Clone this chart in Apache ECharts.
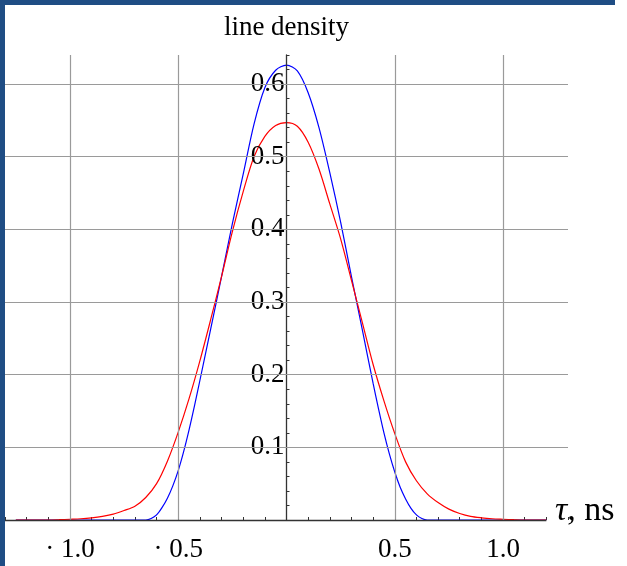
<!DOCTYPE html>
<html><head><meta charset="utf-8">
<script src="https://cdn.jsdelivr.net/npm/echarts@6/dist/echarts.min.js"></script>
<style>
html,body{margin:0;padding:0;background:#fff;}
#wrap{position:relative;width:627px;height:566px;overflow:hidden;background:#fff;}
#chart{position:absolute;left:0;top:0;width:627px;height:566px;}
#bl{position:absolute;left:0;top:0;width:5px;height:566px;background:#1f4d84;}
#bt{position:absolute;left:0;top:0;width:615px;height:5px;background:#1f4d84;}
</style></head><body>
<div id="wrap"><div id="chart"></div><div id="bl"></div><div id="bt"></div></div>
<script>
// ---- data ----
const tauBlue = [-1.25, -0.7, -0.65, -0.625, -0.6, -0.575, -0.55, -0.525, -0.5, -0.475, -0.45, -0.425, -0.4, -0.35, -0.3, -0.25, -0.2, -0.15, -0.1, -0.05, 0, 0.05, 0.1, 0.15, 0.2, 0.25, 0.3, 0.35, 0.4, 0.425, 0.45, 0.475, 0.5, 0.525, 0.55, 0.575, 0.6, 0.625, 0.65, 0.7, 1.2];
const blueValues = [0, 0, 0, 0.002, 0.007, 0.017, 0.030, 0.047, 0.068, 0.094, 0.124, 0.157, 0.192, 0.263, 0.335, 0.408, 0.476, 0.545, 0.595, 0.619, 0.626, 0.618, 0.588, 0.54, 0.478, 0.41, 0.335, 0.262, 0.188, 0.153, 0.12, 0.091, 0.066, 0.045, 0.029, 0.016, 0.007, 0.002, 0, 0, 0];

const tauRed = [-1.25, -1.1, -1.05, -1.0, -0.95, -0.9, -0.85, -0.8, -0.75, -0.7, -0.65, -0.6, -0.55, -0.5, -0.45, -0.4, -0.35, -0.3, -0.25, -0.2, -0.15, -0.1, -0.05, 0, 0.05, 0.1, 0.15, 0.2, 0.25, 0.3, 0.35, 0.4, 0.45, 0.5, 0.55, 0.6, 0.65, 0.7, 0.75, 0.8, 0.85, 0.9, 0.95, 1.0, 1.05, 1.1, 1.2];
const redValues = [0, 0, 0.0004, 0.001, 0.0017, 0.003, 0.005, 0.008, 0.013, 0.019, 0.031, 0.05, 0.081, 0.121, 0.167, 0.219, 0.276, 0.335, 0.397, 0.452, 0.5, 0.528, 0.543, 0.547, 0.542, 0.52, 0.483, 0.435, 0.387, 0.33, 0.272, 0.214, 0.164, 0.119, 0.08, 0.054, 0.036, 0.024, 0.015, 0.009, 0.005, 0.003, 0.0017, 0.001, 0.0004, 0, 0];

const xLabelValues = [-1, -0.5, 0.5, 1];
const xLabelTexts = ['\u00B7 1.0', '\u00B7 0.5', '0.5', '1.0'];
const yLabelValues = [0.1, 0.2, 0.3, 0.4, 0.5, 0.6];
const yLabelTexts = ['0.1', '0.2', '0.3', '0.4', '0.5', '0.6'];
const xGridValues = [-1, -0.5, 0.5, 1];
const yGridValues = [0.1, 0.2, 0.3, 0.4, 0.5, 0.6];
const xAxisLineExtent = [-1.3, 1.2];
const xRange = [-1.3, 1.3];
const yRange = [0, 0.64];
const yTitle = 'line density';
const xTitle = 'ns';

// ---- chart ----
const FONT = '"Liberation Serif", "Times New Roman", serif';
const zip = (a, b) => a.map((v, i) => [v, b[i]]);
const pick = (vals, texts, v) => {
  for (let i = 0; i < vals.length; i++) if (Math.abs(vals[i] - v) < 1e-6) return texts[i];
  return '';
};

const W = 627, GRID_L = 5, GRID_R = 59;
const gridW = W - GRID_L - GRID_R;
// place the y axis at x = 0 of the horizontal scale
const yAxisOffset = -gridW * (0 - xRange[0]) / (xRange[1] - xRange[0]);

const chart = echarts.init(document.getElementById('chart'), null, {renderer: 'canvas'});
chart.setOption({
  animation: false,
  backgroundColor: 'transparent',
  grid: {left: GRID_L, right: GRID_R, top: 55, bottom: 46, containLabel: false, outerBoundsMode: 'none'},
  xAxis: {
    type: 'value', min: xRange[0], max: xRange[1], interval: 0.1,
    axisLine: {show: false},
    axisTick: {show: true, inside: true, length: 3, lineStyle: {color: '#333', width: 1}},
    splitLine: {show: false},
    axisLabel: {
      margin: 16, color: '#000', fontFamily: FONT, fontSize: 27,
      formatter: v => pick(xLabelValues, xLabelTexts, v)
    },
    name: '{t|\u03C4}{n|, ' + xTitle + '}',
    nameLocation: 'end', nameGap: -13,
    nameTextStyle: {
      align: 'left', verticalAlign: 'middle', padding: [0, 0, 18, 0],
      rich: {
        t: {fontFamily: FONT, fontSize: 34, fontStyle: 'italic', color: '#000'},
        n: {fontFamily: FONT, fontSize: 34, color: '#000'}
      }
    }
  },
  yAxis: {
    type: 'value', min: yRange[0], max: yRange[1], interval: 0.02, z: 4,
    position: 'left', offset: yAxisOffset,
    axisLine: {show: true, onZero: false, lineStyle: {color: '#333', width: 1.3}},
    axisTick: {show: true, inside: true, length: 3, lineStyle: {color: '#333', width: 1}},
    splitLine: {show: false},
    axisLabel: {
      margin: 2, color: '#000', fontFamily: FONT, fontSize: 27,
      formatter: v => pick(yLabelValues, yLabelTexts, v)
    },
    name: yTitle, nameLocation: 'end', nameGap: 14,
    nameTextStyle: {color: '#000', fontFamily: FONT, fontSize: 27, align: 'center', verticalAlign: 'bottom'}
  },
  series: [
    {
      type: 'line', z: 1, silent: true, showSymbol: false,
      data: [[xAxisLineExtent[0], 0], [xAxisLineExtent[1], 0]],
      lineStyle: {opacity: 0},
      markLine: {
        silent: true, animation: false, symbol: ['none', 'none'], label: {show: false},
        lineStyle: {color: '#9a9a9a', width: 1.2, type: 'solid'},
        emphasis: {disabled: true},
        data: [
          ...xGridValues.map(v => ({xAxis: v})),
          ...yGridValues.map(v => ({yAxis: v})),
          [{coord: [xAxisLineExtent[0], 0], lineStyle: {color: '#333', width: 1.3, type: 'solid'}},
           {coord: [xAxisLineExtent[1], 0]}]
        ]
      }
    },
    {
      name: 'blue', type: 'line', z: 3, showSymbol: false, smooth: 0.3,
      data: zip(tauBlue, blueValues),
      lineStyle: {color: '#0000ff', width: 1.2}, itemStyle: {color: '#0000ff'}
    },
    {
      name: 'red', type: 'line', z: 3, showSymbol: false, smooth: 0.3,
      data: zip(tauRed, redValues),
      lineStyle: {color: '#ff0000', width: 1.2}, itemStyle: {color: '#ff0000'}
    }
  ]
});
</script>
</body></html>
